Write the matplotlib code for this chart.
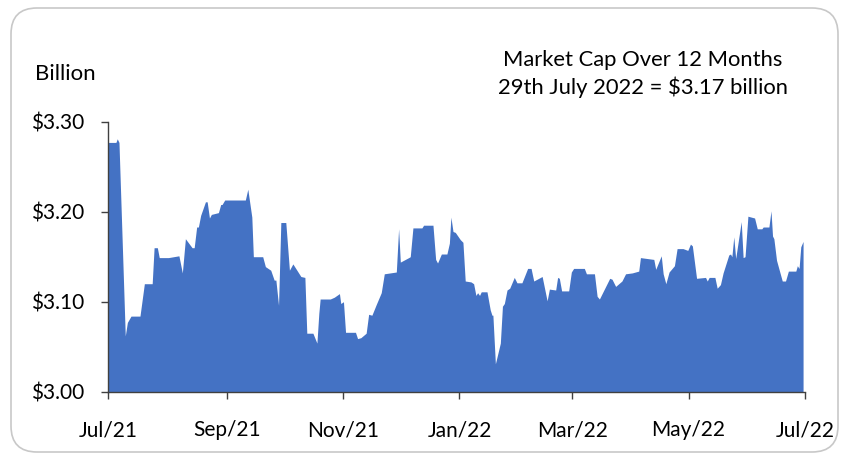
import matplotlib
matplotlib.use('Agg')
import matplotlib.pyplot as plt
import matplotlib.dates as mdates
from matplotlib.patches import FancyBboxPatch
from matplotlib.transforms import IdentityTransform
import numpy as np

plt.rcParams['font.family'] = ['Lato', 'DejaVu Sans']

# Market cap (days since 29 Jul 2021, $ billion)
start_date = np.datetime64('2021-07-29')
days = [0, 4.0, 4.7, 5.6, 8.9, 10.0, 11.9, 16.6, 18.9, 23.0, 24.0, 25.7, 26.7, 31.5,
        37.0, 38.8, 40.4, 43.9, 45.0, 46.3, 47.2, 48.4, 50.9, 51.8, 53.0, 54.0, 57.7,
        58.9, 59.6, 61.0, 71.8, 73.1, 75.2, 76.0, 80.9, 82.3, 85.1, 86.9, 87.8, 89.2,
        90.4, 93.0, 94.9, 96.7, 100.9, 103.0, 104.0, 107.2, 109.3, 110.3, 111.0, 116.3,
        118.4, 121.1, 121.8, 123.2, 124.3, 129.5, 130.6, 132.3, 135.1, 136.4, 138.1,
        140.4, 143.0, 144.6, 150.9, 152.1, 153.0, 157.4, 158.2, 159.6, 164.3, 165.2,
        170.1, 171.5, 172.5, 174.5, 177.4, 178.7, 179.5, 180.6, 181.8, 184.4, 185.8,
        187.0, 190.0, 191.4, 192.6, 193.5, 194.5, 195.4, 198.4, 200.1, 201.0, 201.5,
        202.8, 205.4, 206.5, 207.5, 208.9, 210.3, 212.7, 214.1, 216.7, 219.7, 221.5,
        222.9, 227.3, 229.9, 231.1, 234.4, 235.4, 236.3, 237.5, 241.2, 242.6, 243.8,
        249.4, 250.5, 254.7, 256.1, 257.3, 262.7, 263.9, 265.8, 269.1, 271.0, 274.5,
        277.9, 278.8, 282.3, 285.8, 286.8, 289.7, 290.7, 292.1, 293.8, 296.6, 298.0,
        301.1, 303.6, 305.0, 306.0, 308.2, 312.9, 313.8, 314.8, 317.8, 319.0, 320.7,
        322.1, 325.1, 326.0, 326.7, 327.7, 328.7, 331.6, 332.6, 333.6, 335.1, 338.6,
        340.0, 342.4, 343.1, 346.1, 347.2, 348.0, 348.7, 350.1, 353.1, 354.8, 356.3,
        360.2, 361.0, 361.9, 362.8, 364.0]
market_cap = [3.277, 3.277, 3.281, 3.277, 3.062, 3.077, 3.084, 3.084, 3.120, 3.120, 3.160,
              3.160, 3.149, 3.149, 3.151, 3.132, 3.170, 3.160, 3.160, 3.183, 3.183, 3.196,
              3.211, 3.211, 3.193, 3.197, 3.199, 3.208, 3.208, 3.213, 3.213, 3.225, 3.194,
              3.150, 3.150, 3.139, 3.135, 3.124, 3.124, 3.096, 3.188, 3.188, 3.135, 3.142,
              3.128, 3.127, 3.065, 3.065, 3.054, 3.087, 3.103, 3.103, 3.105, 3.109, 3.098,
              3.100, 3.066, 3.066, 3.059, 3.060, 3.065, 3.086, 3.085, 3.097, 3.110, 3.131,
              3.133, 3.181, 3.144, 3.149, 3.150, 3.182, 3.182, 3.185, 3.185, 3.147, 3.143,
              3.153, 3.153, 3.165, 3.194, 3.178, 3.177, 3.169, 3.166, 3.123, 3.122, 3.120,
              3.107, 3.110, 3.107, 3.111, 3.111, 3.091, 3.085, 3.085, 3.031, 3.054, 3.095,
              3.098, 3.113, 3.115, 3.127, 3.121, 3.121, 3.137, 3.137, 3.123, 3.128, 3.101,
              3.114, 3.113, 3.127, 3.126, 3.112, 3.112, 3.133, 3.137, 3.137, 3.131, 3.131,
              3.106, 3.103, 3.126, 3.125, 3.117, 3.123, 3.131, 3.132, 3.134, 3.149, 3.148,
              3.147, 3.136, 3.151, 3.131, 3.120, 3.133, 3.140, 3.159, 3.159, 3.157, 3.164,
              3.162, 3.126, 3.127, 3.123, 3.127, 3.127, 3.115, 3.119, 3.132, 3.152, 3.153,
              3.150, 3.172, 3.148, 3.189, 3.149, 3.150, 3.195, 3.193, 3.181, 3.181, 3.183,
              3.183, 3.201, 3.173, 3.170, 3.146, 3.123, 3.123, 3.134, 3.134, 3.140, 3.137,
              3.161, 3.167]

y_ticks = [3.00, 3.10, 3.20, 3.30]
y_labels = ['$3.00', '$3.10', '$3.20', '$3.30']

dates = start_date + (np.array(days) * 24 * 60).astype('timedelta64[m]')
dates = dates.astype('datetime64[m]').astype(object)

fig = plt.figure(figsize=(8.54, 4.54), dpi=100)
ax = fig.add_axes([0.1268, 0.1372, 0.8158, 0.5947])

ax.fill_between(dates, market_cap, 3.0, color='#4472C4', linewidth=0)

ax.set_ylim(3.0, 3.3)
ax.set_xlim(np.datetime64('2021-07-29'), np.datetime64('2022-07-29'))
ax.set_yticks(y_ticks)
ax.set_yticklabels(y_labels)
ax.xaxis.set_major_locator(mdates.MonthLocator(bymonth=[1, 3, 5, 7, 9, 11], bymonthday=29))
ax.xaxis.set_major_formatter(mdates.DateFormatter('%b/%y'))

for s in ['top', 'right']:
    ax.spines[s].set_visible(False)
for s in ['left', 'bottom']:
    ax.spines[s].set_color('#404040')
    ax.spines[s].set_linewidth(1)
ax.tick_params(axis='y', length=5, width=1, color='#404040', labelsize=15, pad=12)
ax.tick_params(axis='x', length=5, width=1, color='#404040', labelsize=15, pad=15.5)

fig.text(35 / 854, 1 - 74 / 454, 'Billion', fontsize=16, ha='left', va='center')
fig.text(643 / 854, 1 - 74 / 454, 'Market Cap Over 12 Months\n29th July 2022 = $3.17 billion',
         fontsize=15.8, ha='center', va='center', linespacing=1.35)

# rounded frame around the chart
frame = FancyBboxPatch((11, 2), 827, 444, boxstyle='round,pad=0,rounding_size=26',
                       transform=IdentityTransform(), facecolor='none',
                       edgecolor='#c8c8c8', linewidth=1.2)
fig.patches.append(frame)

fig.savefig('out.png', dpi=100)
